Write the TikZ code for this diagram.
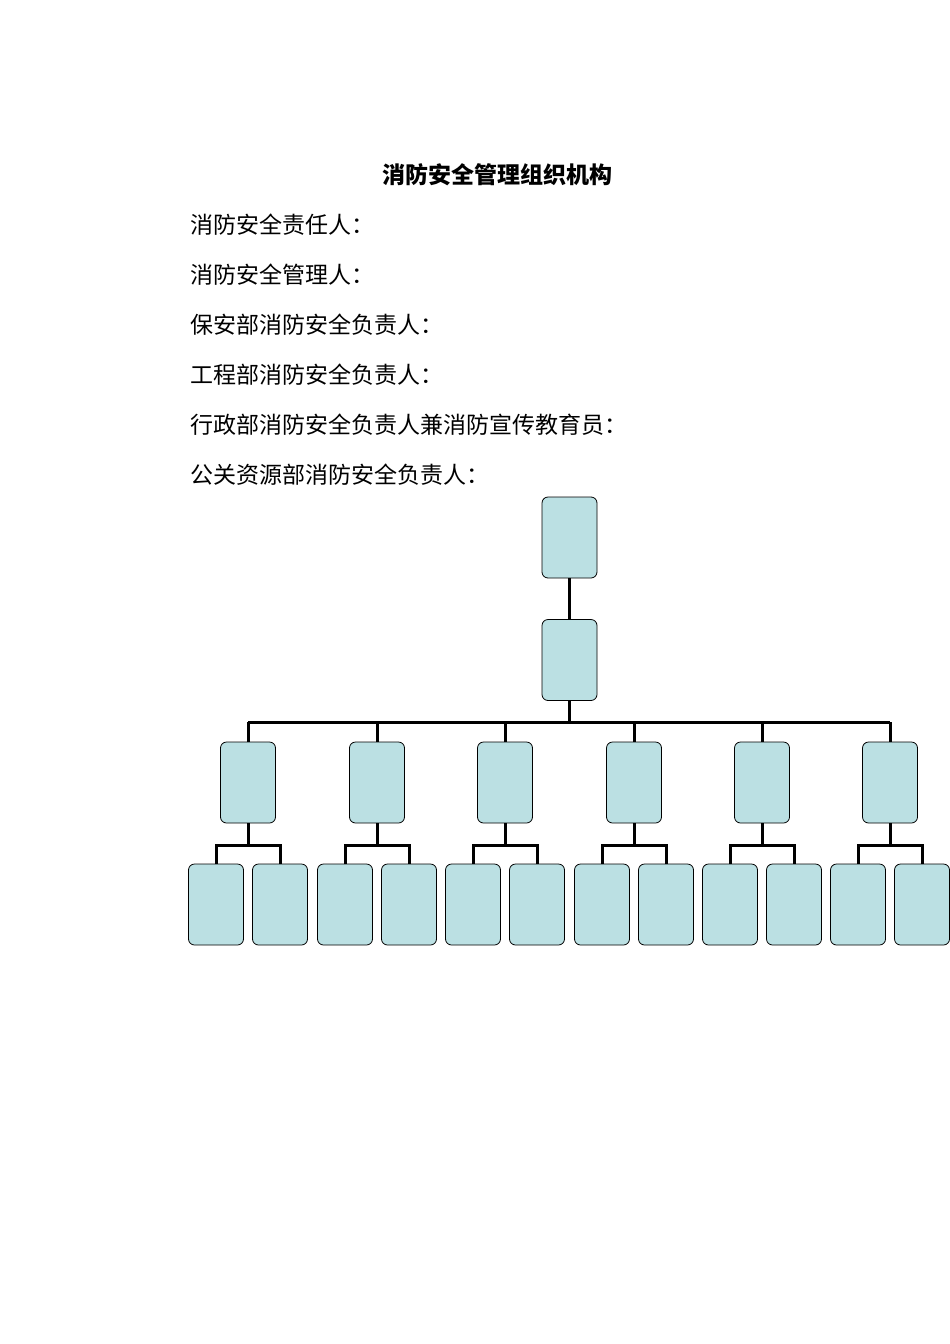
\documentclass[tikz,border=0pt]{standalone}
\usepackage{fontspec}
\setmainfont{Noto Sans CJK SC}
\begin{document}
\begin{tikzpicture}[x=1pt,y=-1pt,
  bx/.style={draw,fill=boxc,rounded corners=6pt,minimum width=55pt,minimum height=81pt,inner sep=0pt,line width=0.8pt},
  ln/.style={line width=3pt},
  tx/.style={anchor=west,font=\fontsize{23}{23}\selectfont,inner sep=0pt}]
\definecolor{boxc}{HTML}{BBE0E3}
\useasboundingbox (0,0) rectangle (950,1344);
\node[font=\fontsize{23}{23}\selectfont\bfseries,inner sep=0pt] (title) at (497,175) {消防安全管理组织机构};
\node[tx] (l1) at (190,225) {消防安全责任人：};
\node[tx] (l2) at (190,275) {消防安全管理人：};
\node[tx] (l3) at (190,325) {保安部消防安全负责人：};
\node[tx] (l4) at (190,375) {工程部消防安全负责人：};
\node[tx] (l5) at (190,425) {行政部消防安全负责人兼消防宣传教育员：};
\node[tx] (l6) at (190,475) {公关资源部消防安全负责人：};
\node[bx] (a) at (569.5,537.5) {};
\node[bx] (b) at (569.5,660) {};
\draw[ln] (a.south) -- (b.north);
\coordinate (bar) at (569.5,722);
\draw[ln] (b.south) -- (bar);
\draw[ln] (248,722) -- (890,722);
\foreach \x [count=\i] in {248,377,505,634,762,890}{
  \node[bx] (m\i) at (\x,782.5) {};
  \draw[ln] (\x,722) -- (m\i.north);
  \node[bx] (c\i a) at (\x-32,904.5) {};
  \node[bx] (c\i b) at (\x+32,904.5) {};
  \draw[ln] (m\i.south) -- (\x,845);
  \draw[ln] (c\i a.north) |- (\x,845) -| (c\i b.north);
}
\end{tikzpicture}
\end{document}
